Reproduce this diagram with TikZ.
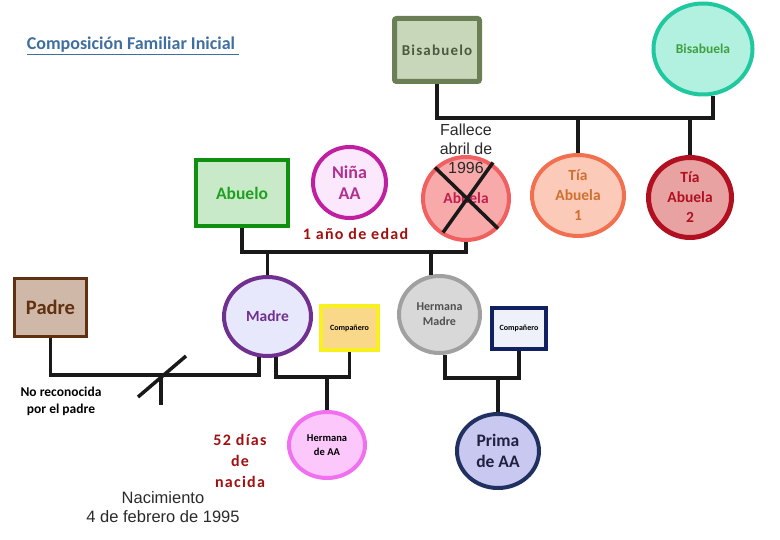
\documentclass[tikz,border=0pt]{standalone}
\usepackage{fontspec}
\setmainfont{Carlito}
\newfontfamily\arialfont{Liberation Sans}
\usetikzlibrary{%
  positioning,
  calc,
  shapes.geometric,
}

\definecolor{titulo}{HTML}{3F6FA0}
\definecolor{rojo}{HTML}{A01010}
\definecolor{gris}{HTML}{2A2A2A}

\begin{document}
\begin{tikzpicture}[
    x=1pt, y=-1pt,
    every text node part/.style={align=center},
    font=\bfseries,
    hombre/.style={
      % The shape:
      rectangle,
      % The border:
      line width=4pt,
      inner sep=0pt,
    },
    mujer/.style={
      % The shape:
      ellipse,
      % The border:
      line width=4pt,
      inner sep=0pt,
    },
    linea/.style={line width=3.5pt, black!90},
    tam/.style 2 args={font=\bfseries\fontsize{#1}{#2}\selectfont},
    espaciado/.style 2 args={font=\bfseries\fontsize{#1}{#2}\selectfont\addfontfeature{LetterSpace=8}},
  ]
    \useasboundingbox (0,0) rectangle (780,540);

    % generation 1
    \node[hombre, line width=5pt, rounded corners=2pt, draw={rgb,255:red,107;green,127;blue,87},
          fill={rgb,255:red,200;green,214;blue,185}, text={rgb,255:red,75;green,90;blue,62},
          minimum width=85, minimum height=63, espaciado={15}{18}] (bisabuelo) at (437,50) {Bisabuelo};
    \node[mujer, draw={rgb,255:red,32;green,200;blue,160}, fill={rgb,255:red,178;green,240;blue,224},
          text={rgb,255:red,64;green,160;blue,64}, minimum width=99, minimum height=91, tam={13.5}{16}]
          (bisabuela) at (703,49) {Bisabuela};

    % generation 2
    \node[hombre, draw={rgb,255:red,16;green,144;blue,16}, fill={rgb,255:red,200;green,234;blue,200},
          text={rgb,255:red,32;green,160;blue,32}, minimum width=92, minimum height=66, tam={17.5}{20}]
          (abuelo) at (242,193) {Abuelo};
    \node[mujer, draw={rgb,255:red,192;green,32;blue,160}, fill={rgb,255:red,252;green,232;blue,252},
          text={rgb,255:red,176;green,48;blue,144}, minimum width=73, minimum height=71, tam={18}{21}]
          (nina) at (349.5,182.5) {Niña\\AA};
    \node[mujer, draw={rgb,255:red,240;green,96;blue,96}, fill={rgb,255:red,248;green,170;blue,170},
          text={rgb,255:red,192;green,32;blue,80}, minimum width=86, minimum height=83, tam={15.5}{18}]
          (abuela) at (466,198.5) {Abuela};
    \node[mujer, draw={rgb,255:red,240;green,112;blue,80}, fill={rgb,255:red,252;green,202;blue,184},
          text={rgb,255:red,208;green,112;blue,48}, minimum width=92, minimum height=81, tam={15.5}{20}]
          (tia1) at (578,195.5) {Tía\\Abuela\\1};
    \node[mujer, line width=5pt, draw={rgb,255:red,176;green,16;blue,32}, fill={rgb,255:red,232;green,162;blue,162},
          text={rgb,255:red,176;green,16;blue,32}, minimum width=83, minimum height=80, tam={15.5}{20}]
          (tia2) at (690,197.5) {Tía\\Abuela\\2};

    % generation 3
    \node[hombre, line width=3pt, draw={rgb,255:red,96;green,48;blue,16}, fill={rgb,255:red,208;green,184;blue,168},
          text={rgb,255:red,96;green,48;blue,16}, minimum width=72, minimum height=58, tam={20.5}{24}]
          (padre) at (50.5,307.5) {Padre};
    \node[mujer, draw={rgb,255:red,112;green,48;blue,144}, fill={rgb,255:red,232;green,232;blue,252},
          text={rgb,255:red,112;green,48;blue,144}, minimum width=87, minimum height=79, tam={15.5}{18}]
          (madre) at (267.5,316.5) {Madre};
    \node[hombre, draw={rgb,255:red,248;green,240;blue,32}, fill={rgb,255:red,250;green,216;blue,138},
          minimum width=57, minimum height=44, tam={8}{10}] (companero1) at (349.5,328) {Compañero};
    \node[mujer, draw={rgb,255:red,160;green,160;blue,160}, fill={rgb,255:red,216;green,216;blue,216},
          text={rgb,255:red,80;green,80;blue,80}, minimum width=81, minimum height=77, tam={12}{15}]
          (hmadre) at (439.5,314.5) {Hermana\\Madre};
    \node[hombre, draw={rgb,255:red,16;green,32;blue,96}, fill={rgb,255:red,238;green,240;blue,250},
          minimum width=54, minimum height=41, tam={8}{10}] (companero2) at (519,328.5) {Compañero};

    % generation 4
    \node[mujer, draw={rgb,255:red,240;green,112;blue,240}, fill={rgb,255:red,252;green,200;blue,252},
          minimum width=76, minimum height=66, tam={10.5}{14}] (hermana) at (327,445) {Hermana\\de AA};
    \node[mujer, draw={rgb,255:red,32;green,48;blue,96}, fill={rgb,255:red,200;green,200;blue,240},
          text={rgb,255:red,32;green,32;blue,64}, minimum width=82, minimum height=74, tam={17.5}{21}]
          (prima) at (498,451) {Prima\\de AA};

    % family lines
    \coordinate (hermanos) at (0,118);
    \coordinate (hijos) at (0,252);
    \coordinate (pareja1) at (0,375);
    \coordinate (pareja2) at (0,377);
    \coordinate (pareja3) at (0,378);
    \coordinate (aa) at (161,405);

    \draw[linea] (bisabuelo.south) |- (hermanos -| bisabuela.-78) -- (bisabuela.-78);
    \draw[linea] (tia1.north) -- (tia1.north |- hermanos);
    \draw[linea] (tia2.north) -- (tia2.north |- hermanos);

    \draw[linea] (abuelo.south) |- (hijos -| abuela.south) -- (abuela.south);
    \draw[linea] (madre.north) -- (madre.north |- hijos);
    \draw[linea] (hmadre.102) -- (hmadre.102 |- hijos);

    \draw[linea] (padre.south) |- (pareja1 -| madre.258) -- (madre.258);
    \draw[linea] (aa) -- (aa |- pareja1);
    \draw[linea] (138,397) -- (186,356);

    \draw[linea] (madre.-78) |- (pareja2 -| companero1.south) -- (companero1.south);
    \draw[linea] (hermana.north) -- (hermana.north |- pareja2);

    \draw[linea] (hmadre.-82) |- (pareja3 -| companero2.south) -- (companero2.south);
    \draw[linea] (prima.north) -- (prima.north |- pareja3);

    % texts
    \node[text=titulo, tam={18}{21}] (titulo) at (133,46) {\underline{Composición Familiar Inicial\ }};
    \node[text=rojo, espaciado={16}{19}, below=5pt of nina, xshift=6] (edad) {1 año de edad};
    \node[text=gris, font=\arialfont\fontsize{16}{19}\selectfont] (fallece) at (466,149)
          {Fallece\\abril de\\1996};
    \node[tam={13.5}{17}] (noreconocida) at (61,401) {No reconocida\\por el padre};
    \node[text=rojo, espaciado={16}{21}] (dias) at (240,461) {52 días\\de\\nacida};
    \node[text=gris, font=\arialfont\fontsize{16.5}{19}\selectfont] (nacimiento) at (163,507)
          {Nacimiento\\4 de febrero de 1995};

    % deceased
    \draw[linea] ($(abuela)+(-31,-31)$) -- ($(abuela)+(32,30)$);
    \draw[linea] ($(abuela)+(27,-36)$) -- ($(abuela)+(-23,34)$);
  \end{tikzpicture}
\end{document}
